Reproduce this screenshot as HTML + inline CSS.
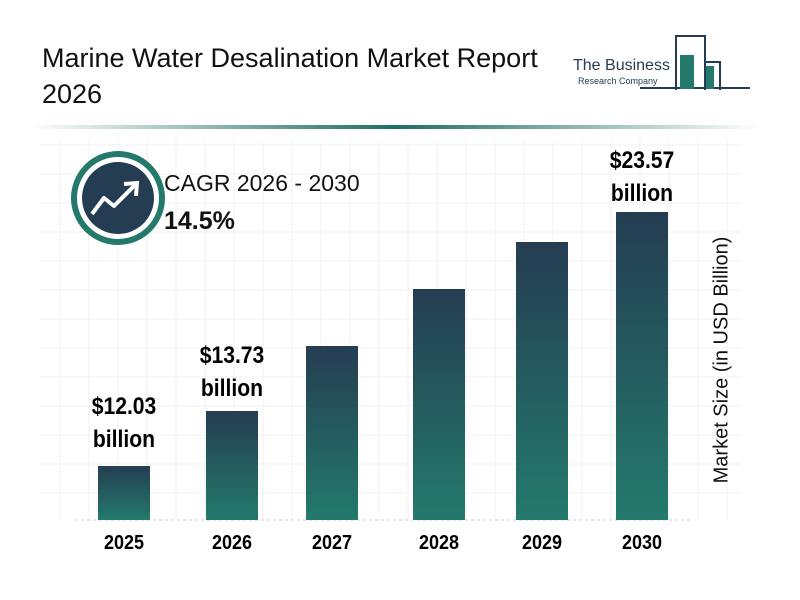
<!DOCTYPE html><html><head><style>
body{margin:0;width:800px;height:600px;background:#fff;font-family:"Liberation Sans",sans-serif;position:relative;overflow:hidden}
.t{position:absolute;font-family:"Liberation Sans",sans-serif}
.bar{position:absolute;width:52px;bottom:80px;background:linear-gradient(#253d52,#237a6c)}
.lab{position:absolute;font-weight:bold;font-size:24px;text-align:center;width:120px;line-height:33px;transform:scaleX(0.88)}
.yr{position:absolute;top:532px;font-weight:bold;font-size:20px;width:80px;text-align:center;transform:scaleX(0.9)}
</style></head><body>
<svg width="800" height="600" style="position:absolute;left:0;top:0">
<defs><linearGradient id="hl" x1="0" x2="1"><stop offset="0" stop-color="#fff"/><stop offset=".5" stop-color="#1f6e63"/><stop offset="1" stop-color="#fff"/></linearGradient></defs>
<rect x="30" y="125" width="730" height="4" fill="url(#hl)"/>
<g stroke="#f1f1f1" stroke-width="1">
<path d="M40 145H740M40 174H740M40 203H740M40 232H740M40 261H740M40 290H740M40 319H740M40 348H740M40 377H740M40 406H740M40 435H740M40 464H740M40 493H740"/>
<path d="M60 140V520M89 140V520M118 140V520M147 140V520M176 140V520M205 140V520M234 140V520M263 140V520M292 140V520M321 140V520M350 140V520M379 140V520M408 140V520M437 140V520M466 140V520M495 140V520M524 140V520M553 140V520M582 140V520M611 140V520M640 140V520M669 140V520M698 140V520M727 140V520"/>
</g>
<line x1="75" y1="520" x2="690" y2="520" stroke="#ccc" stroke-dasharray="3,3"/>
<circle cx="118" cy="198" r="44" fill="#fff" stroke="#237a6c" stroke-width="6"/>
<circle cx="118" cy="198" r="36" fill="#253d52"/>
<polyline points="92,214 104,198 114,206 136,184" fill="none" stroke="#fff" stroke-width="4" stroke-linejoin="round"/>
<polyline points="124,184 137,183 136,196" fill="none" stroke="#fff" stroke-width="4"/>
<g fill="none" stroke="#253d52" stroke-width="2">
<path d="M676 90V36H705V90M705 62H720V90M640 88H750"/>
</g>
<rect x="680" y="55" width="14" height="34" fill="#237a6c"/>
<rect x="706" y="66" width="8" height="23" fill="#237a6c"/>
</svg>
<div class="t" style="left:42px;top:40px;font-size:27px;line-height:36px;color:#111">Marine Water Desalination Market Report<br>2026</div>
<div class="t" style="left:573px;top:57px;font-size:16px;color:#253d52">The Business</div>
<div class="t" style="left:578px;top:76px;font-size:9px;color:#253d52">Research Company</div>
<div class="t" style="left:164px;top:170px;font-size:23px;color:#111">CAGR 2026 - 2030</div>
<div class="t" style="left:164px;top:207px;font-size:25px;font-weight:bold;color:#111">14.5%</div>
<div class="bar" style="left:98px;height:54px"></div>
<div class="bar" style="left:206px;height:109px"></div>
<div class="bar" style="left:306px;height:174px"></div>
<div class="bar" style="left:413px;height:231px"></div>
<div class="bar" style="left:516px;height:278px"></div>
<div class="bar" style="left:616px;height:308px"></div>
<div class="lab" style="left:64px;top:390px">$12.03<br>billion</div>
<div class="lab" style="left:172px;top:339px">$13.73<br>billion</div>
<div class="lab" style="left:582px;top:144px">$23.57<br>billion</div>
<div class="yr" style="left:84px">2025</div>
<div class="yr" style="left:192px">2026</div>
<div class="yr" style="left:292px">2027</div>
<div class="yr" style="left:399px">2028</div>
<div class="yr" style="left:502px">2029</div>
<div class="yr" style="left:602px">2030</div>
<div style="position:absolute;left:722px;top:360px;transform:translate(-50%,-50%) rotate(-90deg);white-space:nowrap;font-size:20px;color:#111">Market Size (in USD Billion)</div>
</body></html>
